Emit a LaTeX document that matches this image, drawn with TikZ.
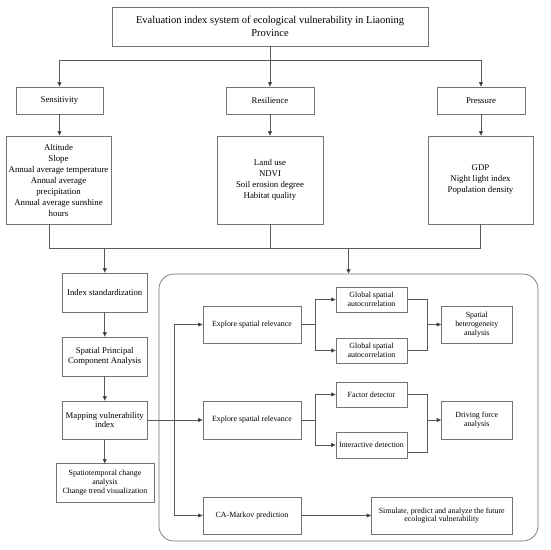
\documentclass[tikz,border=0pt]{standalone}
\usepackage{fontspec}
\setmainfont{Liberation Serif}
\usetikzlibrary{arrows.meta,calc}
\begin{document}
\begin{tikzpicture}[x=1pt,y=-1pt,
  box/.style={draw=black!55, line width=0.7pt, inner sep=1pt, align=center, text=black},
  big/.style={font=\fontsize{10.5}{13.4}\selectfont},
  mid/.style={font=\fontsize{8.8}{11}\selectfont},
  lft/.style={font=\fontsize{8.7}{9.8}\selectfont},
  sml/.style={font=\fontsize{7.9}{8.8}\selectfont},
  conn/.style={draw=black!65, line width=0.7pt},
  arr/.style={conn, -{Triangle[length=4.5pt,width=4pt,fill=black]}}]
\useasboundingbox (0,0) rectangle (550,550);
\fill[white] (0,0) rectangle (550,550);
% top level
\node[box,big,minimum width=316pt,minimum height=39pt] (title) at (270,26.5)
  {Evaluation index system of ecological vulnerability in Liaoning\\Province};
\node[box,mid,minimum width=87pt,minimum height=27pt] (sens) at (59.5,100.5) {Sensitivity};
\node[box,mid,minimum width=88pt,minimum height=27pt] (resil) at (270,100.5) {Resilience};
\node[box,mid,minimum width=88pt,minimum height=27pt] (press) at (481,100.5) {Pressure};
\node[box,mid,minimum width=105pt,minimum height=88pt] (det1) at (58.5,180)
  {Altitude\\Slope\\Annual average temperature\\Annual average\\precipitation\\Annual average sunshine\\hours};
\node[box,mid,minimum width=106pt,minimum height=88pt] (det2) at (270,180)
  {Land use\\NDVI\\Soil erosion degree\\Habitat quality};
\node[box,mid,minimum width=105pt,minimum height=88pt] (det3) at (480.5,180)
  {GDP\\Night light index\\Population density};
\coordinate (tl) at (59.5,60);
\coordinate (tr) at (481,60);
\draw[arr] (title.south) -- (resil.north);
\draw[conn] (tl) -- (tr);
\draw[arr] (tl) -- (sens.north);
\draw[arr] (tr) -- (press.north);
\draw[arr] (sens.south) -- (det1.north -| sens.south);
\draw[arr] (resil.south) -- (det2.north);
\draw[arr] (press.south) -- (det3.north -| press.south);
% left column
\node[box,lft,minimum width=84.5pt,minimum height=39pt] (idx) at (104.75,292.5) {Index standardization};
\node[box,lft,minimum width=84.5pt,minimum height=39pt] (spca) at (104.75,356.5) {Spatial Principal\\Component Analysis};
\node[box,lft,minimum width=84.5pt,minimum height=38pt] (map) at (104.75,420) {Mapping vulnerability\\index};
\node[box,sml,font=\fontsize{7.9}{9}\selectfont,minimum width=98pt,minimum height=38.5pt] (spt) at (105,483)
  {Spatiotemporal change\\analysis\\Change trend visualization};
% frame
\node[draw=black!55, line width=0.7pt, rounded corners=15pt, minimum width=379pt, minimum height=267pt, inner sep=0pt] (frame) at (348.5,407.5) {};
% bottom connector of top part
\coordinate (bl) at (49,248);
\coordinate (br) at (480.5,248);
\draw[conn] (det1.south -| bl) -- (bl) -- (br) -- (det3.south);
\draw[conn] (det2.south) -- (det2.south |- bl);
\draw[arr] (idx.north |- bl) -- (idx.north);
\draw[arr] (frame.north |- bl) -- (frame.north);
\draw[arr] (idx.south) -- (spca.north);
\draw[arr] (spca.south) -- (map.north);
\draw[arr] (map.south) -- (spt.north -| map.south);
% inner boxes
\node[box,sml,minimum width=98pt,minimum height=37pt] (exp1) at (252,324.5) {Explore spatial relevance};
\node[box,sml,minimum width=98pt,minimum height=38pt] (exp2) at (252,420) {Explore spatial relevance};
\node[box,sml,minimum width=98pt,minimum height=37pt] (ca) at (252,515.5) {CA-Markov prediction};
\node[box,sml,minimum width=71pt,minimum height=25pt] (g1) at (371.5,299.5) {Global spatial\\autocorrelation};
\node[box,sml,minimum width=71pt,minimum height=25pt] (g2) at (371.5,350.5) {Global spatial\\autocorrelation};
\node[box,sml,minimum width=71pt,minimum height=25pt] (fd) at (371.5,394.5) {Factor detector};
\node[box,sml,minimum width=71pt,minimum height=26pt] (id) at (371.5,445) {Interactive detection};
\node[box,sml,minimum width=70.5pt,minimum height=37pt] (sp) at (476.75,324.5) {Spatial\\heterogeneity\\analysis};
\node[box,sml,minimum width=70.5pt,minimum height=38pt] (df) at (476.75,420) {Driving force\\analysis};
\node[box,sml,minimum width=140.5pt,minimum height=37pt] (sim) at (441.75,515.5) {Simulate, predict and analyze the future\\ecological vulnerability};
% inner connectors
\coordinate (vj) at (174,420);
\draw[arr] (map.east) -- (exp2.west);
\draw[arr] (vj) |- (exp1.west);
\draw[arr] (vj) |- (ca.west);
\coordinate (b1) at (315,324.5);
\coordinate (b2) at (315,420);
\draw[conn] (exp1.east) -- (b1);
\draw[arr] (b1) |- (g1.west);
\draw[arr] (b1) |- (g2.west);
\draw[conn] (exp2.east) -- (b2);
\draw[arr] (b2) |- (fd.west);
\draw[arr] (b2) |- (id.west);
\coordinate (m1) at (427,324.5);
\coordinate (m2) at (427,420);
\draw[conn] (g1.east) -| (m1);
\draw[conn] (g2.east) -| (m1);
\draw[arr] (m1) -- (sp.west);
\draw[conn] (fd.east) -| (m2);
\draw[conn] ($(id.east)+(0,7)$) -| (m2);
\draw[arr] (m2) -- (df.west);
\draw[arr] (ca.east) -- (sim.west);
\end{tikzpicture}
\end{document}
